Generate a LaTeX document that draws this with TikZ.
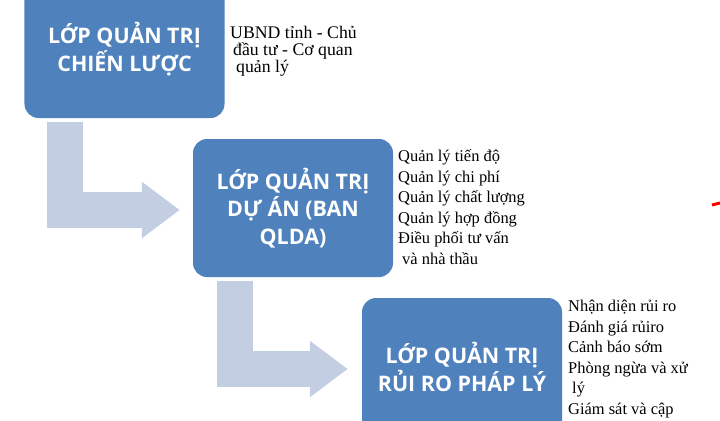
\documentclass[tikz,border=0pt]{standalone}
\usepackage{fontspec}
\setmainfont{Liberation Serif}
\newfontfamily\titlefont{Open Sans}
\usetikzlibrary{arrows.meta}
\definecolor{layerblue}{RGB}{79,129,189}
\definecolor{arrowgrey}{RGB}{196,206,226}
\tikzset{
	layer/.style={fill=layerblue, rounded corners=14bp, minimum width=200bp,
		minimum height=138bp, align=center, text=white, inner sep=0pt,
		font=\titlefont\bfseries\fontsize{21.5}{27.5}\selectfont},
	note/.style={anchor=base west, align=left, inner sep=0pt,
		font=\fontsize{16.5}{20.5}\selectfont},
	bentarrow/.style={draw=arrowgrey, line width=36bp, line join=miter,
		-{Triangle[width=54bp, length=38bp]}}
}
\begin{document}
\begin{tikzpicture}[x=1bp, y=-1bp]
\useasboundingbox (0,0) rectangle (720,420);

\node[layer] (strategy) at (124.5,49) {LỚP QUẢN TRỊ\\CHIẾN LƯỢC};
\node[layer] (project) at (293,208) {LỚP QUẢN TRỊ\\DỰ ÁN (BAN\\QLDA)};
\node[layer] (risk) at (462,367) {LỚP QUẢN TRỊ\\RỦI RO PHÁP LÝ};

\draw[bentarrow] ([xshift=41bp, yshift=-4bp]strategy.south west)
	|- ([xshift=-13bp, yshift=-2bp]project.west);
\draw[bentarrow] ([xshift=42bp, yshift=-4bp]project.south west)
	|- ([xshift=-14bp, yshift=-2bp]risk.west);

% notes are placed by the baseline of their last line
\node[note, font=\fontsize{17.8}{17}\selectfont] (strategynote) at (230,72)
	{UBND tỉnh - Chủ\\\hspace*{3bp}đầu tư - Cơ quan\\\hspace*{6bp}quản lý};
\node[note] (projectnote) at (398,264)
	{Quản lý tiến độ\\Quản lý chi phí\\Quản lý chất lượng\\Quản lý hợp đồng\\
	Điều phối tư vấn\\\hspace*{4bp}và nhà thầu};
\node[note] (risknote) at (568,414)
	{Nhận diện rủi ro\\Đánh giá rủiro\\Cảnh báo sớm\\Phòng ngừa và xử\\
	\hspace*{4bp}lý\\Giám sát và cập};

\draw[red, line width=3bp] (712,205) -- (720,203);
\end{tikzpicture}
\end{document}
